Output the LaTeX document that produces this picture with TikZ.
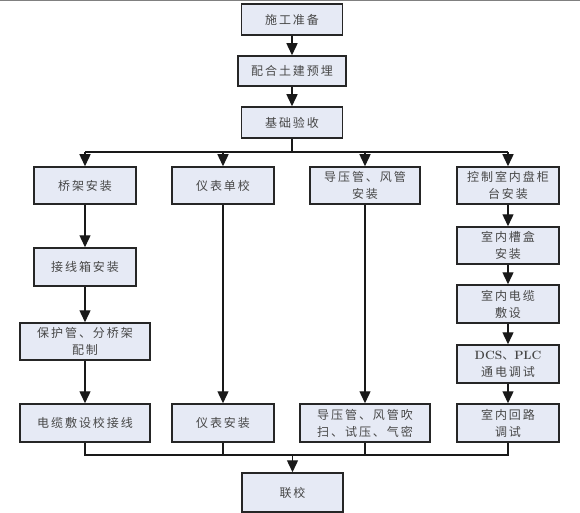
\documentclass[tikz,border=0pt]{standalone}
\usepackage{fontspec}
\newfontfamily\cjk[LetterSpace=16]{Noto Sans CJK SC}
\usetikzlibrary{arrows.meta}
\definecolor{boxfill}{HTML}{E6EAF5}
\definecolor{txt}{HTML}{474747}
\tikzset{
  box/.style={draw=black!85, line width=1.5pt, fill=boxfill, rectangle, inner sep=0pt,
    minimum width=102pt, minimum height=37pt, align=center, text=txt,
    font=\cjk\fontsize{12pt}{17pt}\selectfont},
  conn/.style={draw=black!90, line width=1.4pt},
  arr/.style={conn, -{Triangle[width=11pt,length=12pt]}}
}
\begin{document}
\begin{tikzpicture}[x=1pt,y=-1pt]
\useasboundingbox (0,0) rectangle (580,513);
\draw[gray, line width=1.2pt] (0,0.6) -- (580,0.6);
% top chain
\node[box, minimum width=101pt, minimum height=31pt] (n1) at (292,19.5) {施工准备};
\node[box, minimum width=108pt, minimum height=30pt] (n2) at (292,71) {配合土建预埋};
\node[box, minimum width=101pt, minimum height=31pt] (n3) at (292,122.5) {基础验收};
% first row
\node[box] (q1) at (85,185.5) {桥架安装};
\node[box] (y1) at (223,185.5) {仪表单校};
\node[box, minimum width=110pt] (d1) at (365,185.5) {导压管、风管\\安装};
\node[box] (k1) at (508,185.5) {控制室内盘柜\\台安装};
% left column
\node[box, minimum height=38pt] (q2) at (85,267) {接线箱安装};
\node[box, minimum width=130pt] (q3) at (85,341.5) {保护管、分桥架\\配制};
% right column
\node[box] (k2) at (508,245.5) {室内槽盒\\安装};
\node[box, minimum height=38pt] (k3) at (508,304) {室内电缆\\敷设};
\node[box, minimum height=38pt] (k4) at (508,364) {{\bfseries\rmfamily\fontsize{12pt}{17pt}\selectfont DCS}、{\bfseries\rmfamily\fontsize{12pt}{17pt}\selectfont PLC}\\通电调试};
% bottom row
\node[box, minimum width=130pt, minimum height=38pt] (q4) at (85,423) {电缆敷设校接线};
\node[box, minimum height=38pt] (y2) at (223,423) {仪表安装};
\node[box, minimum width=130pt, minimum height=38pt] (d2) at (365,423) {导压管、风管吹\\扫、试压、气密};
\node[box, minimum height=38pt] (k5) at (508,423) {室内回路\\调试};
% final
\node[box, minimum width=101pt, minimum height=39pt] (lx) at (292.5,492.5) {联校};
% connectors top
\draw[arr] (n1) -- (n2);
\draw[arr] (n2) -- (n3);
\coordinate (bus) at (292,152);
\draw[conn] (n3) -- (bus);
\draw[conn] (q1.north |- bus) -- (k1.north |- bus);
\draw[arr] (q1.north |- bus) -- (q1);
\draw[arr] (y1.north |- bus) -- (y1);
\draw[arr] (d1.north |- bus) -- (d1);
\draw[arr] (k1.north |- bus) -- (k1);
% columns
\draw[arr] (q1) -- (q2);
\draw[arr] (q2) -- (q3);
\draw[arr] (q3) -- (q4);
\draw[arr] (y1) -- (y2);
\draw[arr] (d1) -- (d2);
\draw[arr] (k1) -- (k2);
\draw[arr] (k2) -- (k3);
\draw[arr] (k3) -- (k4);
\draw[arr] (k4) -- (k5);
% bottom merge
\coordinate (bus2) at (292.5,455);
\draw[conn] (q4) -- (q4.south |- bus2) -- (k5.south |- bus2) -- (k5);
\draw[conn] (y2) -- (y2.south |- bus2);
\draw[conn] (d2) -- (d2.south |- bus2);
\draw[arr] (bus2) -- (lx);
\end{tikzpicture}
\end{document}
